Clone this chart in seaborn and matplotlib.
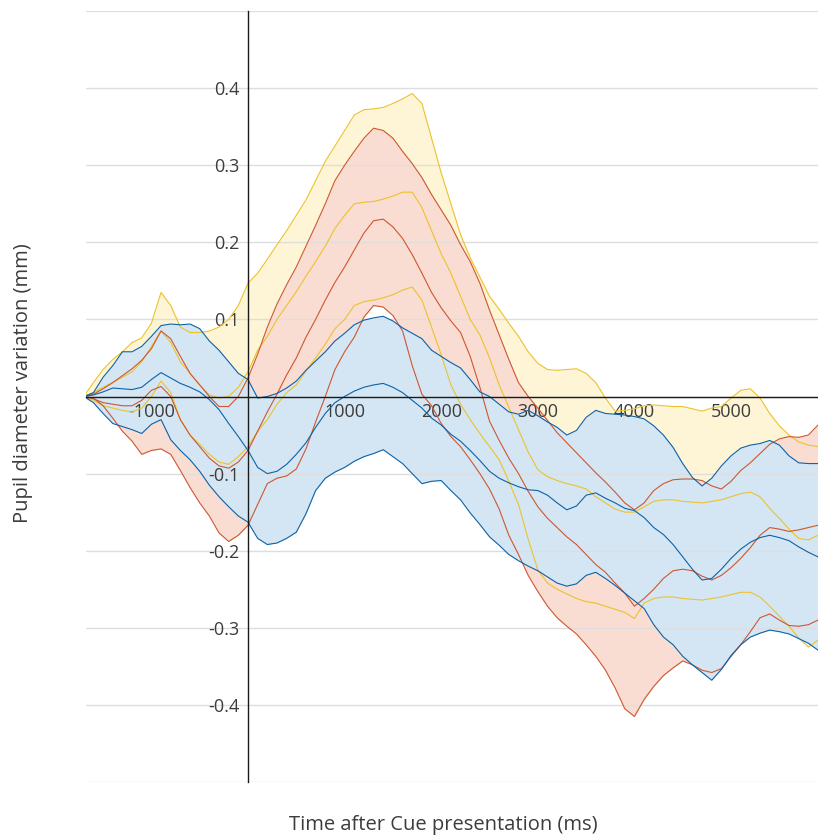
import numpy as np
import pandas as pd
import matplotlib
matplotlib.use("Agg")
import matplotlib.pyplot as plt
import seaborn as sns

# Sample times (ms, relative to cue onset)
time_ms = np.arange(-1700, 5901, 100)

# Yellow condition: upper bound, mean, lower bound
yellow_upper = [
    0.000, 0.018, 0.035, 0.048, 0.058, 0.070, 0.076, 0.095, 0.135, 0.118,
    0.090, 0.083, 0.083, 0.085, 0.090, 0.100, 0.118, 0.147, 0.160, 0.178,
    0.197, 0.215, 0.235, 0.255, 0.280, 0.305, 0.325, 0.345, 0.365, 0.372,
    0.373, 0.375, 0.380, 0.386, 0.393, 0.380, 0.335, 0.290, 0.250, 0.210,
    0.180, 0.155, 0.130, 0.113, 0.095, 0.078, 0.058, 0.043, 0.035, 0.034,
    0.035, 0.036, 0.030, 0.018, -0.002, -0.019, -0.018, -0.016, -0.012, -0.011,
    -0.012, -0.013, -0.013, -0.016, -0.019, -0.015, -0.013, -0.002, 0.008, 0.010,
    -0.002, -0.022, -0.038, -0.050, -0.059, -0.063, -0.065,
]
yellow_mean = [
    0.000, 0.005, 0.012, 0.018, 0.025, 0.032, 0.045, 0.065, 0.085, 0.070,
    0.045, 0.030, 0.015, 0.002, -0.002, 0.000, 0.012, 0.032, 0.060, 0.078,
    0.100, 0.118, 0.136, 0.156, 0.175, 0.195, 0.218, 0.235, 0.250, 0.252,
    0.253, 0.256, 0.260, 0.265, 0.265, 0.245, 0.215, 0.185, 0.160, 0.130,
    0.100, 0.080, 0.050, 0.015, -0.014, -0.043, -0.072, -0.095, -0.104, -0.109,
    -0.113, -0.116, -0.120, -0.130, -0.138, -0.146, -0.150, -0.150, -0.143, -0.136,
    -0.134, -0.134, -0.136, -0.137, -0.138, -0.136, -0.134, -0.130, -0.126, -0.124,
    -0.130, -0.145, -0.158, -0.172, -0.184, -0.186, -0.180,
]
yellow_lower = [
    0.000, -0.005, -0.012, -0.015, -0.018, -0.020, -0.015, 0.000, 0.020, 0.005,
    -0.030, -0.050, -0.062, -0.075, -0.085, -0.088, -0.078, -0.065, -0.045, -0.030,
    -0.010, 0.005, 0.015, 0.033, 0.050, 0.068, 0.088, 0.100, 0.118, 0.123,
    0.125, 0.128, 0.132, 0.138, 0.142, 0.125, 0.090, 0.054, 0.015, -0.010,
    -0.030, -0.048, -0.065, -0.082, -0.110, -0.140, -0.185, -0.225, -0.242, -0.250,
    -0.256, -0.262, -0.266, -0.268, -0.272, -0.276, -0.280, -0.288, -0.268, -0.262,
    -0.260, -0.260, -0.262, -0.263, -0.264, -0.262, -0.260, -0.257, -0.254, -0.254,
    -0.260, -0.272, -0.285, -0.298, -0.313, -0.325, -0.316,
]

# Red condition
red_upper = [
    0.000, 0.003, 0.010, 0.018, 0.027, 0.036, 0.047, 0.062, 0.085, 0.075,
    0.052, 0.030, 0.015, 0.000, -0.013, -0.013, 0.000, 0.024, 0.055, 0.090,
    0.120, 0.145, 0.168, 0.195, 0.222, 0.250, 0.280, 0.300, 0.318, 0.335,
    0.348, 0.345, 0.335, 0.318, 0.302, 0.284, 0.262, 0.242, 0.222, 0.197,
    0.175, 0.147, 0.112, 0.080, 0.048, 0.018, 0.000, -0.015, -0.031, -0.047,
    -0.060, -0.073, -0.086, -0.099, -0.111, -0.124, -0.138, -0.147, -0.138, -0.122,
    -0.113, -0.108, -0.107, -0.107, -0.109, -0.116, -0.120, -0.110, -0.096, -0.086,
    -0.074, -0.062, -0.055, -0.052, -0.053, -0.050, -0.037,
]
red_mean = [
    0.000, -0.003, -0.008, -0.010, -0.012, -0.012, -0.005, 0.008, 0.013, 0.000,
    -0.030, -0.050, -0.065, -0.080, -0.090, -0.093, -0.085, -0.070, -0.045, -0.020,
    0.003, 0.028, 0.050, 0.077, 0.100, 0.125, 0.148, 0.168, 0.190, 0.212,
    0.228, 0.230, 0.220, 0.205, 0.184, 0.160, 0.135, 0.115, 0.098, 0.083,
    0.052, 0.012, -0.032, -0.057, -0.080, -0.100, -0.123, -0.143, -0.158, -0.170,
    -0.182, -0.192, -0.205, -0.218, -0.228, -0.242, -0.255, -0.272, -0.262, -0.250,
    -0.236, -0.226, -0.224, -0.226, -0.233, -0.238, -0.232, -0.222, -0.210, -0.196,
    -0.180, -0.170, -0.172, -0.175, -0.173, -0.170, -0.167,
]
red_lower = [
    0.000, -0.002, -0.012, -0.028, -0.045, -0.058, -0.075, -0.070, -0.068, -0.075,
    -0.096, -0.118, -0.138, -0.155, -0.177, -0.188, -0.180, -0.167, -0.140, -0.113,
    -0.106, -0.103, -0.094, -0.068, -0.033, 0.000, 0.035, 0.058, 0.077, 0.103,
    0.118, 0.116, 0.105, 0.085, 0.040, 0.003, -0.012, -0.035, -0.052, -0.065,
    -0.082, -0.100, -0.120, -0.146, -0.180, -0.205, -0.232, -0.253, -0.272, -0.287,
    -0.298, -0.308, -0.322, -0.337, -0.355, -0.378, -0.405, -0.415, -0.393, -0.376,
    -0.362, -0.352, -0.343, -0.348, -0.355, -0.358, -0.353, -0.337, -0.322, -0.305,
    -0.287, -0.282, -0.290, -0.297, -0.298, -0.296, -0.290,
]

# Blue condition
blue_upper = [
    0.000, 0.005, 0.025, 0.040, 0.058, 0.058, 0.065, 0.078, 0.092, 0.094,
    0.093, 0.094, 0.088, 0.072, 0.060, 0.045, 0.030, 0.022, -0.002, 0.000,
    0.004, 0.011, 0.020, 0.034, 0.046, 0.058, 0.072, 0.082, 0.093, 0.099,
    0.102, 0.104, 0.098, 0.089, 0.082, 0.075, 0.060, 0.052, 0.044, 0.037,
    0.022, 0.006, 0.000, -0.010, -0.020, -0.023, -0.018, -0.025, -0.033, -0.040,
    -0.050, -0.044, -0.027, -0.018, -0.022, -0.023, -0.024, -0.026, -0.029, -0.038,
    -0.050, -0.066, -0.087, -0.105, -0.116, -0.106, -0.090, -0.077, -0.067, -0.063,
    -0.061, -0.057, -0.063, -0.077, -0.086, -0.087, -0.087,
]
blue_mean = [
    0.000, 0.002, 0.006, 0.011, 0.010, 0.009, 0.012, 0.022, 0.031, 0.024,
    0.017, 0.012, 0.006, -0.004, -0.017, -0.035, -0.052, -0.070, -0.092, -0.100,
    -0.097, -0.088, -0.075, -0.060, -0.040, -0.022, -0.008, 0.000, 0.007, 0.012,
    0.015, 0.017, 0.012, 0.005, -0.005, -0.015, -0.028, -0.037, -0.049, -0.058,
    -0.070, -0.083, -0.097, -0.106, -0.112, -0.117, -0.121, -0.122, -0.128, -0.138,
    -0.147, -0.142, -0.128, -0.125, -0.132, -0.138, -0.145, -0.148, -0.157, -0.170,
    -0.179, -0.192, -0.208, -0.224, -0.238, -0.236, -0.224, -0.210, -0.198, -0.189,
    -0.183, -0.180, -0.183, -0.187, -0.195, -0.202, -0.208,
]
blue_lower = [
    0.000, -0.008, -0.022, -0.035, -0.039, -0.043, -0.048, -0.036, -0.030, -0.056,
    -0.070, -0.082, -0.097, -0.115, -0.130, -0.143, -0.155, -0.163, -0.184, -0.192,
    -0.190, -0.184, -0.176, -0.152, -0.122, -0.106, -0.098, -0.092, -0.084, -0.078,
    -0.074, -0.069, -0.078, -0.087, -0.100, -0.113, -0.110, -0.109, -0.122, -0.134,
    -0.151, -0.166, -0.182, -0.193, -0.205, -0.213, -0.220, -0.226, -0.234, -0.242,
    -0.246, -0.243, -0.232, -0.228, -0.236, -0.245, -0.255, -0.265, -0.275, -0.296,
    -0.312, -0.322, -0.337, -0.348, -0.358, -0.368, -0.354, -0.336, -0.322, -0.312,
    -0.307, -0.303, -0.305, -0.308, -0.314, -0.320, -0.329,
]

x_ticks = [-1000, 1000, 2000, 3000, 4000, 5000]
x_tick_labels = ["-1000", "1000", "2000", "3000", "4000", "5000"]
y_ticks = [-0.5, -0.4, -0.3, -0.2, -0.1, 0.0, 0.1, 0.2, 0.3, 0.4, 0.5]
y_tick_labels = ["", "-0.4", "-0.3", "-0.2", "-0.1", "", "0.1", "0.2", "0.3", "0.4", ""]

line_colors = {"yellow": "#ecc22c", "red": "#cf5630", "blue": "#0d62a6"}
band_colors = {"yellow": "#fef5d6", "red": "#f9ddd2", "blue": "#d4e6f4"}

conditions = {
    "yellow": (yellow_upper, yellow_mean, yellow_lower),
    "red": (red_upper, red_mean, red_lower),
    "blue": (blue_upper, blue_mean, blue_lower),
}

records = []
for cond, (up, mid, lo) in conditions.items():
    for part, vals in (("upper", up), ("mean", mid), ("lower", lo)):
        for t, v in zip(time_ms, vals):
            records.append({"time": t, "value": v, "condition": cond,
                            "trace": f"{cond}_{part}"})
df = pd.DataFrame(records)

sns.set_theme(style="white")
plt.rcParams["font.family"] = ["Open Sans", "DejaVu Sans"]
text_color = "#3c3c3c"

fig = plt.figure(figsize=(8.18, 8.35), dpi=100)
ax = fig.add_axes([85.7 / 818, 1 - 782 / 835, 1 - 85.7 / 818, 771 / 835])

# Shaded bands, yellow at the back and blue in front
for cond, (up, mid, lo) in conditions.items():
    ax.fill_between(time_ms, lo, up, color=band_colors[cond], linewidth=0, zorder=1)

# Bound and mean traces
palette = {f"{c}_{p}": line_colors[c] for c in conditions for p in ("upper", "mean", "lower")}
sns.lineplot(data=df, x="time", y="value", hue="trace", palette=palette,
             estimator=None, sort=False, legend=False, linewidth=0.8, ax=ax, zorder=3)

ax.set_xlim(-1680, 5900)
ax.set_ylim(-0.5, 0.5)

ax.set_axisbelow("line")
ax.yaxis.grid(True, color="#dedede", linewidth=1.0)
ax.xaxis.grid(False)

for side in ("top", "right"):
    ax.spines[side].set_visible(False)
ax.spines["left"].set_position(("data", 0))
ax.spines["bottom"].set_position(("data", 0))
for side in ("left", "bottom"):
    ax.spines[side].set_color("#1a1a1a")
    ax.spines[side].set_linewidth(1.0)
    ax.spines[side].set_zorder(4)

ax.set_xticks(x_ticks)
ax.set_xticklabels(x_tick_labels)
ax.set_yticks(y_ticks)
ax.set_yticklabels(y_tick_labels)
ax.tick_params(axis="both", direction="in", length=7, width=1.0, color="#1a1a1a",
               labelsize=13, labelcolor=text_color)
ax.tick_params(axis="x", pad=5)
ax.tick_params(axis="y", pad=6)
ax.set_xlabel("")
ax.set_ylabel("")

fig.text(443 / 818, 1 - 825 / 835, "Time after Cue presentation (ms)",
         ha="center", va="center", fontsize=14.5, color=text_color)
fig.text(23 / 818, 1 - 383 / 835, "Pupil diameter variation (mm)",
         ha="center", va="center", rotation=90, fontsize=14.5, color=text_color)

fig.savefig("out.png", dpi=100, facecolor="white")
